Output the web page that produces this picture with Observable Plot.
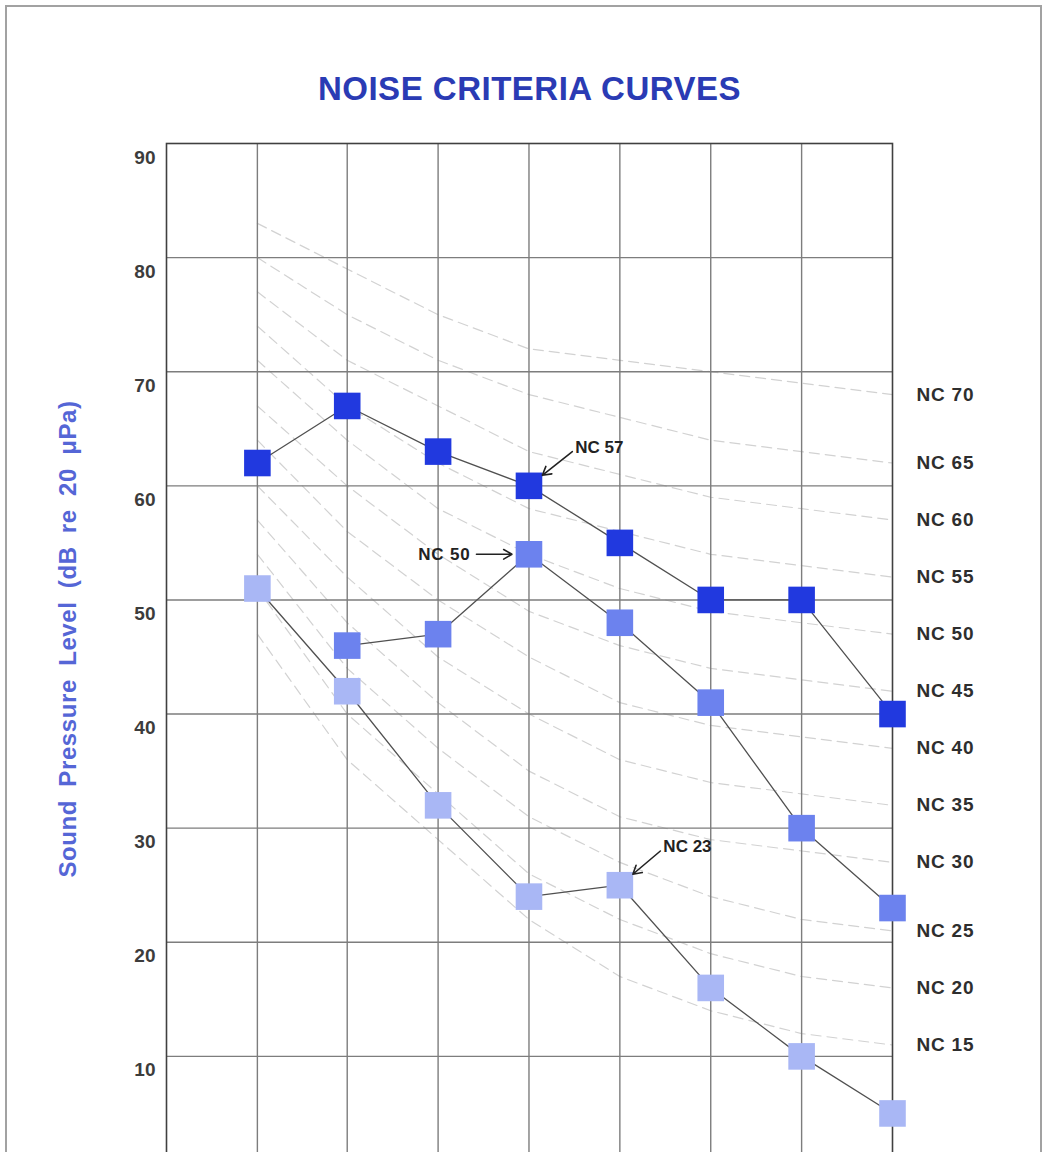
<!DOCTYPE html>
<html>
<head>
<meta charset="utf-8">
<script src="https://cdn.jsdelivr.net/npm/d3@7"></script>
<script src="https://cdn.jsdelivr.net/npm/@observablehq/plot@0.6"></script>
<style>
  html, body { margin: 0; padding: 0; background: #fff; }
  #page { position: relative; width: 1045px; height: 1152px; overflow: hidden; font-family: "Liberation Sans", Arial, sans-serif; }
  #border { position: absolute; left: 5px; top: 5px; width: 1037px; height: 1300px; border: 2px solid #a2a2a2; box-sizing: border-box; pointer-events: none; }
  #title { height: 120px; box-sizing: border-box; padding-top: 72px; padding-left: 14px; line-height: 33px; text-align: center; font-size: 33px; font-weight: bold; letter-spacing: 0.5px; color: #2a3bb4; }
  #chart svg { display: block; }
</style>
</head>
<body>
<div id="page">
  <div id="border"></div>
  <div id="title">NOISE CRITERIA CURVES</div>
  <div id="chart"></div>
</div>
<script>
// Octave-band centre frequencies (Hz)
const freqs = [63, 125, 250, 500, 1000, 2000, 4000, 8000];
const gridFreqs = [63, 125, 250, 500, 1000, 2000, 4000];
const levelTicks = [10, 20, 30, 40, 50, 60, 70, 80, 90];

// Measured spectra (dB)
const seriesNames = ["NC 57", "NC 50", "NC 23"];
const seriesColors = ["#2139df", "#6c82ee", "#a9b7f5"];
const seriesA = [62, 67, 63, 60, 55, 50, 50, 40];
const seriesB = [null, 46, 47, 54, 48, 41, 30, 23];
const seriesC = [51, 42, 32, 24, 25, 16, 10, 5];

// Background NC reference curves
const ncNames = ["NC 15", "NC 20", "NC 25", "NC 30", "NC 35", "NC 40", "NC 45", "NC 50", "NC 55", "NC 60", "NC 65", "NC 70"];
const ncCurves = [
  [47, 36, 29, 22, 17, 14, 12, 11],
  [51, 40, 33, 26, 22, 19, 17, 16],
  [54, 44, 37, 31, 27, 24, 22, 21],
  [57, 48, 41, 35, 31, 29, 28, 27],
  [60, 52, 45, 40, 36, 34, 33, 32],
  [64, 56, 50, 45, 41, 39, 38, 37],
  [67, 60, 54, 49, 46, 44, 43, 42],
  [71, 64, 58, 54, 51, 49, 48, 47],
  [74, 67, 62, 58, 56, 54, 53, 52],
  [77, 71, 67, 63, 61, 59, 58, 57],
  [80, 75, 71, 68, 66, 64, 63, 62],
  [83, 79, 75, 72, 71, 70, 69, 68]
];

// Annotations: label, target point, arrow tail (data space), side of label
const noteLabels = ["NC 57", "NC 50", "NC 23"];
const noteTargets = [[500, 60], [500, 54], [1000, 25]];
const noteTails = [[696, 63], [335, 54], [1362, 28]];
const noteSides = ["start", "end", "start"];

const yLabel = "Sound Pressure Level (dB re 20 \u03bcPa)";

// Build tables
const measured = [];
[seriesA, seriesB, seriesC].forEach((s, i) => {
  s.forEach((v, j) => { if (v != null) measured.push({series: seriesNames[i], freq: freqs[j], level: v}); });
});
const ncRows = [];
ncCurves.forEach((c, i) => c.forEach((v, j) => ncRows.push({name: ncNames[i], freq: freqs[j], level: v})));
const ncEnds = ncCurves.map((c, i) => ({name: ncNames[i], freq: freqs[freqs.length - 1], level: c[c.length - 1]}));
const notes = noteLabels.map((l, i) => ({
  label: l, x1: noteTails[i][0], y1: noteTails[i][1], x2: noteTargets[i][0], y2: noteTargets[i][1], side: noteSides[i]
}));

const chart = Plot.plot({
  width: 1045,
  height: 1110,
  marginTop: 23,
  marginBottom: 60,
  marginLeft: 166,
  marginRight: 153,
  style: {fontFamily: "'Liberation Sans', Arial, sans-serif", background: "transparent"},
  x: {type: "log", domain: [31.5, 8000], axis: null},
  y: {domain: [0, 90], axis: null},
  color: {domain: seriesNames, range: seriesColors},
  marks: [
    Plot.line(ncRows, {x: "freq", y: "level", z: "name", stroke: "#d2d2d2", strokeWidth: 1.2, strokeDasharray: "10,6"}),
    Plot.ruleX(gridFreqs, {stroke: "#7d7d7d", strokeWidth: 1.4}),
    Plot.ruleY(levelTicks.slice(0, -1), {stroke: "#7d7d7d", strokeWidth: 1.4}),
    Plot.frame({stroke: "#404040", strokeWidth: 1.6}),
    Plot.axisY({ticks: levelTicks, tickSize: 0, tickPadding: 11, dy: 14, fontSize: 19, fontWeight: "bold", fill: "#3c3c3c", label: null}),
    Plot.text([yLabel], {frameAnchor: "left", textAnchor: "middle", dx: -98, dy: -18, rotate: -90, fontSize: 24, fontWeight: "bold", fill: "#5566d6"}),
    Plot.text(ncEnds, {x: "freq", y: "level", text: "name", dx: 24, textAnchor: "start", fontSize: 19, fontWeight: "bold", fill: "#2e2e2e"}),
    Plot.line(measured, {x: "freq", y: "level", z: "series", stroke: "#505050", strokeWidth: 1.3}),
    Plot.dot(measured, {x: "freq", y: "level", symbol: "square", r: 15, fill: "series", stroke: "none"}),
    Plot.arrow(notes, {x1: "x1", y1: "y1", x2: "x2", y2: "y2", stroke: "#222", strokeWidth: 1.6, insetEnd: 17, headLength: 9}),
    Plot.text(notes.filter(d => d.side === "start"), {x: "x1", y: "y1", text: "label", textAnchor: "start", dx: 3, dy: -4, fontSize: 17, fontWeight: "bold", fill: "#222"}),
    Plot.text(notes.filter(d => d.side === "end"), {x: "x1", y: "y1", text: "label", textAnchor: "end", dx: -6, dy: 0, fontSize: 17, fontWeight: "bold", fill: "#222"})
  ]
});

// Typography tweaks (letter/word spacing as in the scanned original)
d3.select(chart).selectAll("text").each(function() {
  const t = this.textContent;
  if (t === yLabel) d3.select(this).style("word-spacing", "6px").style("letter-spacing", "0.6px");
  else if (ncNames.includes(t)) d3.select(this).style("letter-spacing", "0.8px");
});
document.getElementById("chart").appendChild(chart);
</script>
</body>
</html>
